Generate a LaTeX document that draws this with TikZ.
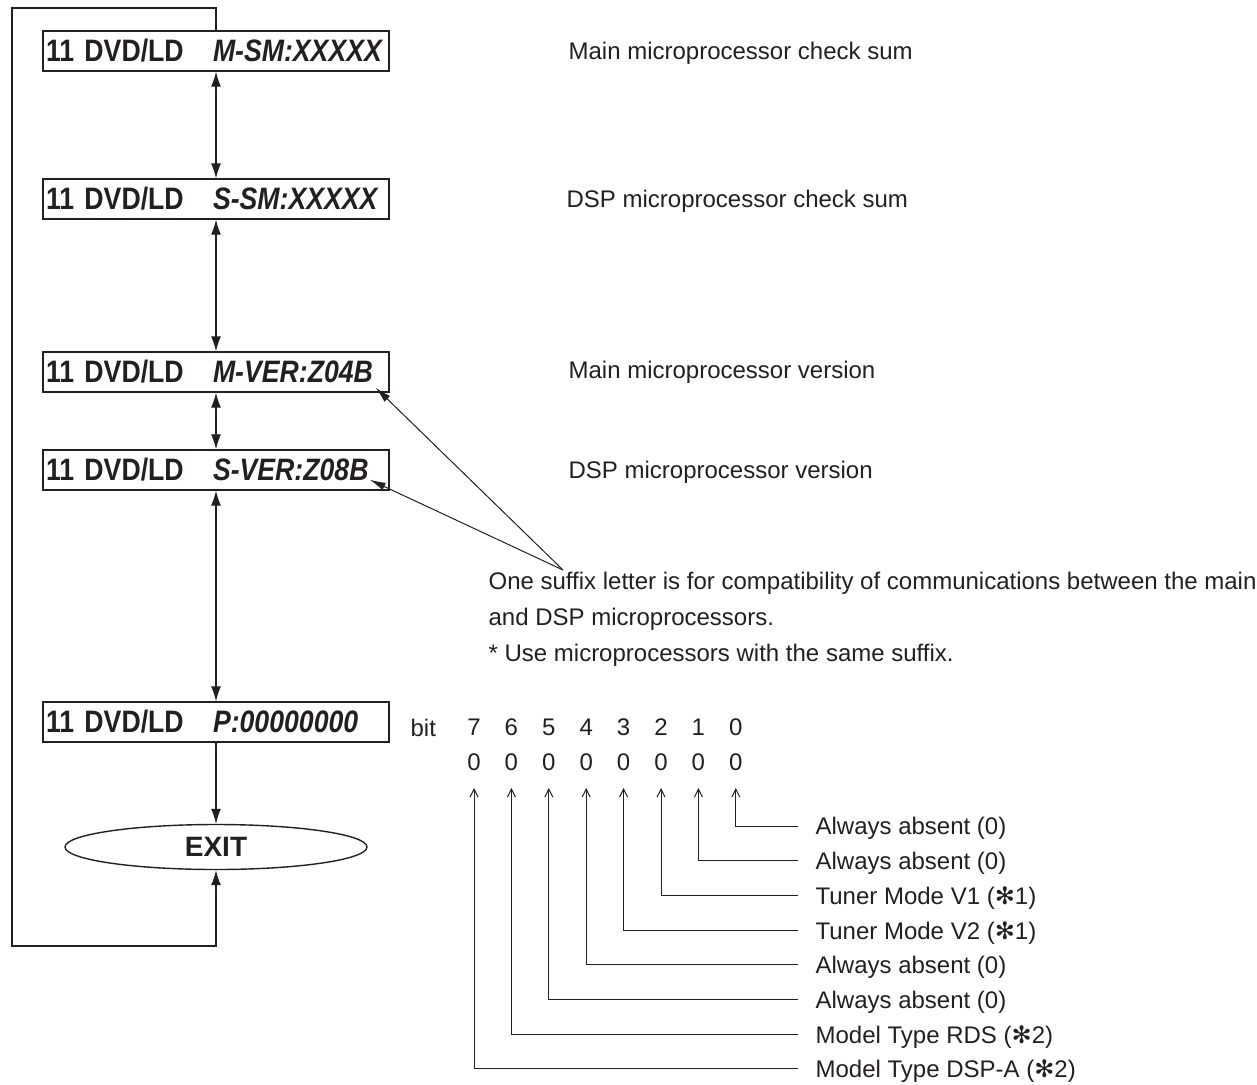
\documentclass[tikz,border=0pt]{standalone}
\usepackage{fontspec}
\setmainfont{Liberation Sans}
\newfontfamily\lcdfont[FakeStretch=0.86]{Liberation Sans}
\newfontfamily\symfont{DejaVu Sans}
\usetikzlibrary{arrows.meta,shapes.geometric}
\definecolor{ink}{HTML}{231F20}
\newcommand{\lcd}[2]{\makebox[167pt][l]{#1}\textit{#2}}
\newcommand{\starsym}{{\symfont ✻}}
\begin{document}
\begin{tikzpicture}[x=1pt,y=-1pt,color=ink,line width=1.2pt,
				lcd box/.style = {draw,rectangle,line width=1.4pt,text width=340pt,align=left,
					inner xsep=3pt,inner ysep=0pt,minimum height=40pt,
					font=\lcdfont\bfseries\fontsize{31}{34}\selectfont},
				exit oval/.style = {draw,ellipse,line width=1.4pt,inner sep=0pt,minimum width=302pt,
					minimum height=45pt,font=\bfseries\fontsize{28}{30}\selectfont},
				desc/.style = {anchor=west,inner sep=0pt,yshift=-2.5pt,font=\fontsize{24}{28}\selectfont},
				digit/.style = {inner sep=0pt,yshift=-2pt,font=\fontsize{24}{28}\selectfont},
				flow/.style = {-{Latex[length=15pt,width=10pt]}},
				both ways/.style = {{Latex[length=15pt,width=10pt]}-{Latex[length=15pt,width=10pt]}},
				pointer/.style = {-{Latex[length=16pt,width=8pt]},line width=1pt},
				bit line/.style = {-{Straight Barb[length=8pt,width=8pt]},line width=1pt}]
				
				\path[use as bounding box] (0,0) rectangle (1257,1084);
				
				% flow chart
				\node[lcd box] (msm) at (216,51) {\lcd{11 DVD/LD}{M-SM:XXXXX}};
				\node[lcd box] (ssm) at (216,199) {\lcd{11 DVD/LD}{S-SM:XXXXX}};
				\node[lcd box] (mver) at (216,372) {\lcd{11 DVD/LD}{M-VER:Z04B}};
				\node[lcd box] (sver) at (216,470) {\lcd{11 DVD/LD}{S-VER:Z08B}};
				\node[lcd box] (pcode) at (216,722) {\lcd{11 DVD/LD}{P:00000000}};
				\node[exit oval] (exit) at (216,847) {EXIT};
				\coordinate (loop tl) at (12,8);
				\coordinate (loop br) at (216,946);
				
				\path[both ways]
				(msm) edge (ssm)
				(ssm) edge (mver)
				(mver) edge (sver)
				(sver) edge (pcode);
				\draw[flow] (pcode) -- (exit);
				\draw[flow] (msm.north) |- (loop tl) |- (loop br) -- (exit.south);
				
				% descriptions
				\node[desc] (d msm) at (568,51) {Main microprocessor check sum};
				\node[desc] (d ssm) at (566,199) {DSP microprocessor check sum};
				\node[desc] (d mver) at (568,370) {Main microprocessor version};
				\node[desc] (d sver) at (568,470) {DSP microprocessor version};
				
				% suffix note
				\coordinate (apex) at (563,570);
				\draw[pointer] (apex) -- ([xshift=-14pt,yshift=5pt]mver.south east);
				\draw[pointer] (apex) -- ([xshift=-20pt,yshift=11pt]sver.south east);
				\node[desc] (note1) at (488,581) {One suffix letter is for compatibility of communications between the main};
				\node[desc] (note2) at (488,617) {and DSP microprocessors.};
				\node[desc] (note3) at (488,653) {* Use microprocessors with the same suffix.};
				
				% bit table
				\node[desc] (bit) at (410,725) {bit};
				\foreach \b in {0,...,7} {
					\pgfmathsetmacro\bx{474+37.4*(7-\b)}
					\node[digit] (bit\b) at (\bx,725) {\b};
					\node[digit] (val\b) at (\bx,760) {0};
				}
				\foreach \b/\txt in {0/{Always absent (0)},1/{Always absent (0)},
					2/{Tuner Mode V1 (\starsym1)},3/{Tuner Mode V2 (\starsym1)},
					4/{Always absent (0)},5/{Always absent (0)},
					6/{Model Type RDS (\starsym2)},7/{Model Type DSP-A (\starsym2)}} {
					\pgfmathsetmacro\ly{826+34.7*\b}
					\node[desc] (lab\b) at (815,\ly) {\txt};
					\draw[bit line] ([xshift=-17pt,yshift=2.5pt]lab\b.west) -| ([yshift=-26pt]val\b.center);
				}
\end{tikzpicture}
\end{document}
